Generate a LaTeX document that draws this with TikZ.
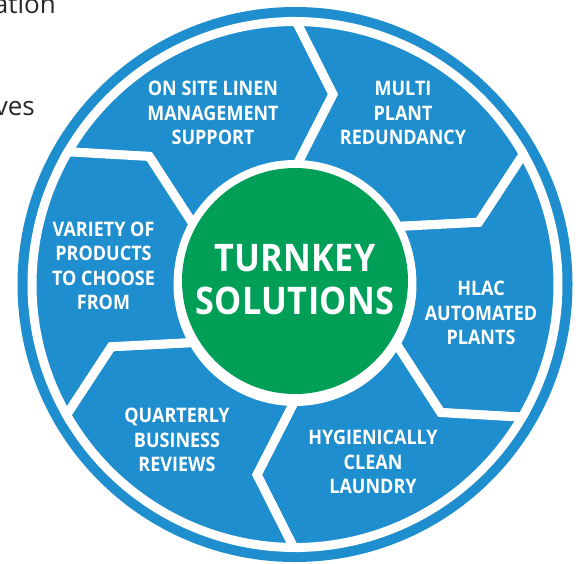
\documentclass[tikz,border=0pt]{standalone}
\usepackage{fontspec}
\newfontfamily\lab[FakeStretch=0.9]{Open Sans}
\newfontfamily\plain{Open Sans}
\definecolor{segblue}{RGB}{31,142,206}
\definecolor{hubgreen}{RGB}{0,159,88}
\definecolor{txtgray}{RGB}{40,40,40}
\begin{document}
\begin{tikzpicture}[x=1pt,y=1pt,
  seg/.style={fill=segblue,draw=white,line width=9pt,line join=miter},
  lbl/.style={text=white,align=center,font=\lab\bfseries\fontsize{20}{24.5}\selectfont},
  hub/.style={text=white,align=center,font=\lab\bfseries\fontsize{38}{43}\selectfont\addfontfeature{LetterSpace=1}},
  frag/.style={text=txtgray,font=\plain\fontsize{26}{30}\selectfont,inner sep=0pt}]
\useasboundingbox[fill=white] (0,0) rectangle (581,-563);
% outer disc
\fill[segblue] (295,-284.5) circle[radius=277.5pt];
% segments
\begin{scope}[shift={(295,-284.5)}]
\foreach \a in {149.7,89.7,29.7,-30.3,-90.3,-150.3}{
  \pgfmathsetmacro\b{\a-60}
  \pgfmathsetmacro\at{\a-11}
  \pgfmathsetmacro\bt{\b-11}
  \filldraw[seg] (\a:263pt) arc[start angle=\a, end angle=\b, radius=263pt]
     -- (\bt:194pt) -- (\b:117pt)
     arc[start angle=\b, end angle=\a, radius=117pt]
     -- (\at:194pt) -- cycle;
}
\end{scope}
% hub
\fill[white] (295,-281) circle[radius=121pt];
\node[circle,fill=hubgreen,minimum size=226pt,inner sep=0pt] (hubc) at (295,-281) {};
\node[hub] (hubt) at (295,-280) {TURNKEY\\SOLUTIONS};
% labels
\node[lbl] (onsite) at (213,-113) {ON SITE LINEN\\MANAGEMENT\\SUPPORT};
\node[lbl] (multi) at (403,-113) {MULTI\\PLANT\\REDUNDANCY};
\node[lbl] (hlac) at (481,-313) {HLAC\\AUTOMATED\\PLANTS};
\node[lbl] (hyg) at (373,-462) {HYGIENICALLY\\CLEAN\\LAUNDRY};
\node[lbl] (qbr) at (177,-440) {QUARTERLY\\BUSINESS\\REVIEWS};
\node[lbl] (var) at (103.5,-266) {VARIETY OF\\PRODUCTS\\TO CHOOSE\\FROM};
% cropped surrounding text
\node[frag,anchor=base east] (fraga) at (56,-13) {ation};
\node[frag,anchor=base east] (fragb) at (35,-115) {ves};
\end{tikzpicture}
\end{document}
